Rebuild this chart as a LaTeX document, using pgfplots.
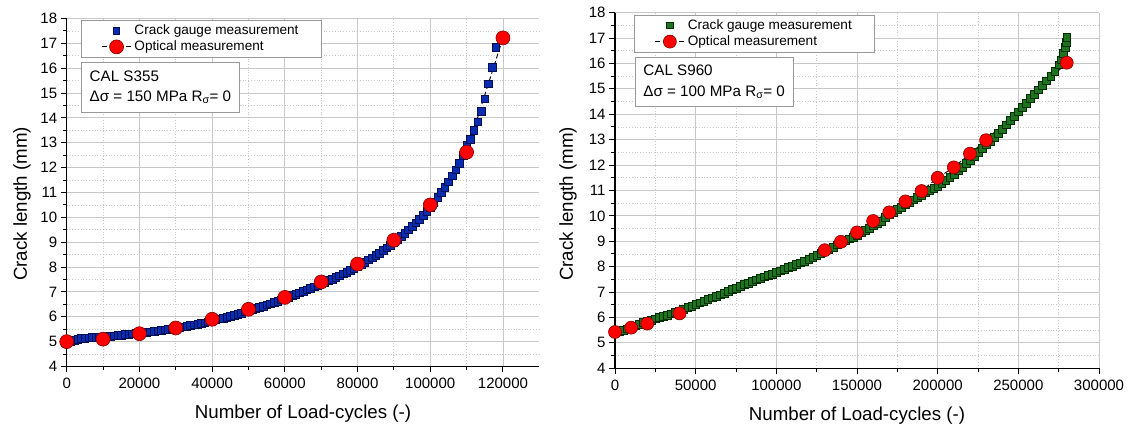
\documentclass[border=0pt]{standalone}
\usepackage{fontspec}
\setmainfont{Liberation Sans}
\usepackage{pgfplots}
\pgfplotsset{compat=1.18}
\usepackage{pgfplotstable}

\definecolor{gaugeblue}{RGB}{10,45,175}
\definecolor{gaugeblueedge}{RGB}{0,15,85}
\definecolor{gaugegreen}{RGB}{30,115,30}
\definecolor{gaugegreenedge}{RGB}{0,45,0}
\definecolor{optred}{RGB}{255,0,0}
\definecolor{optrededge}{RGB}{130,0,0}
\definecolor{gridmaj}{RGB}{200,200,200}
\definecolor{gridmin}{RGB}{200,200,200}

\pgfplotstableread{
x y
0 5.00
1000 5.02
2000 5.05
3000 5.09
4000 5.13
5000 5.15
6000 5.16
7000 5.17
8000 5.18
9000 5.19
10000 5.20
11000 5.21
12000 5.23
13000 5.24
14000 5.26
15000 5.27
16000 5.29
17000 5.30
18000 5.32
19000 5.33
20000 5.35
21000 5.37
22000 5.38
23000 5.40
24000 5.42
25000 5.44
26000 5.46
27000 5.48
28000 5.50
29000 5.52
30000 5.55
31000 5.57
32000 5.60
33000 5.62
34000 5.65
35000 5.68
36000 5.71
37000 5.74
38000 5.77
39000 5.81
40000 5.85
41000 5.88
42000 5.92
43000 5.95
44000 5.99
45000 6.03
46000 6.07
47000 6.11
48000 6.15
49000 6.20
50000 6.25
51000 6.29
52000 6.34
53000 6.38
54000 6.43
55000 6.48
56000 6.53
57000 6.58
58000 6.63
59000 6.69
60000 6.75
61000 6.80
62000 6.86
63000 6.91
64000 6.97
65000 7.03
66000 7.09
67000 7.15
68000 7.21
69000 7.27
70000 7.33
71000 7.39
72000 7.46
73000 7.52
74000 7.59
75000 7.66
76000 7.73
77000 7.80
78000 7.87
79000 7.95
80000 8.03
81000 8.12
82000 8.20
83000 8.29
84000 8.38
85000 8.48
86000 8.57
87000 8.67
88000 8.78
89000 8.89
90000 9.00
91000 9.12
92000 9.24
93000 9.37
94000 9.50
95000 9.64
96000 9.78
97000 9.93
98000 10.09
99000 10.25
100000 10.42
101000 10.60
102000 10.80
103000 11.00
104000 11.22
105000 11.44
106000 11.68
107000 11.92
108000 12.18
109000 12.50
110000 12.90
111000 13.15
112000 13.50
113000 13.85
114000 14.28
115000 14.78
116000 15.38
117000 16.05
118000 16.85
}\gaugeA

\pgfplotstableread{
x y
0 5.00
10000 5.10
20000 5.32
30000 5.55
40000 5.90
50000 6.30
60000 6.78
70000 7.40
80000 8.12
90000 9.08
100000 10.50
110000 12.62
120000 17.22
}\opticA

\pgfplotstableread{
x y
0 5.40
2500 5.45
5000 5.51
7500 5.56
10000 5.62
12500 5.68
15000 5.74
17500 5.80
20000 5.85
22500 5.90
25000 5.95
27500 6.00
30000 6.05
32500 6.10
35000 6.15
37500 6.20
40000 6.25
42500 6.32
45000 6.39
47500 6.45
50000 6.52
52500 6.58
55000 6.65
57500 6.71
60000 6.78
62500 6.84
65000 6.90
67500 6.97
70000 7.03
72500 7.10
75000 7.16
77500 7.23
80000 7.30
82500 7.36
85000 7.42
87500 7.49
90000 7.55
92500 7.61
95000 7.66
97500 7.72
100000 7.78
102500 7.84
105000 7.90
107500 7.97
110000 8.03
112500 8.10
115000 8.16
117500 8.23
120000 8.30
122500 8.38
125000 8.46
127500 8.54
130000 8.62
132500 8.70
135000 8.78
137500 8.87
140000 8.95
142500 9.02
145000 9.10
147500 9.17
150000 9.25
152500 9.34
155000 9.43
157500 9.53
160000 9.62
162500 9.72
165000 9.80
167500 9.95
170000 10.05
172500 10.15
175000 10.25
177500 10.35
180000 10.45
182500 10.54
185000 10.64
187500 10.73
190000 10.82
192500 10.91
195000 11.00
197500 11.09
200000 11.18
202500 11.30
205000 11.41
207500 11.53
210000 11.65
212500 11.79
215000 11.92
217500 12.06
220000 12.20
222500 12.35
225000 12.50
227500 12.65
230000 12.80
232500 12.95
235000 13.11
237500 13.26
240000 13.42
242500 13.59
245000 13.76
247500 13.93
250000 14.10
252500 14.27
255000 14.45
257500 14.62
260000 14.80
262500 14.97
265000 15.15
267500 15.32
270000 15.50
272500 15.70
275000 15.95
276500 16.15
278000 16.40
279000 16.65
279500 16.85
280000 17.05
}\gaugeB

\pgfplotstableread{
x y
0 5.43
10000 5.60
20000 5.76
40000 6.16
130000 8.65
140000 8.98
150000 9.35
160000 9.80
170000 10.14
180000 10.57
190000 10.98
200000 11.50
210000 11.91
220000 12.45
230000 12.98
280000 16.03
}\opticB

\pgfplotsset{
  crackaxis/.style={
    scale only axis,
    anchor=origin,
    axis lines*=left,
    axis line style={line width=1.1bp,black},
    ymin=4, ymax=18,
    ytick={4,5,...,18},
    minor y tick num=1,
    minor x tick num=1,
    tick align=outside,
    major tick length=6bp,
    minor tick length=4bp,
    every tick/.style={black,line width=1bp},
    grid=both,
    major grid style={gridmaj,line width=0.9bp},
    minor grid style={gridmin,line width=0.8bp,dotted},
    scaled x ticks=false,
    scaled y ticks=false,
    /pgf/number format/fixed,
    /pgf/number format/precision=0,
    /pgf/number format/1000 sep={},
    /pgf/number format/assume math mode=true,
    tick label style={font=\fontsize{15bp}{18bp}\selectfont},
    xticklabel style={yshift=-2bp},
    label style={font=\fontsize{18.7bp}{22bp}\selectfont},
    xlabel={Number of Load-cycles (-)},
    ylabel={Crack length (mm)},
    xlabel style={at={(rel axis cs:0.5,0)},anchor=center,yshift=-47bp},
    legend cell align=left,
    legend style={
      anchor=north west,
      draw=gray!80, line width=0.8bp, fill=white,
      inner xsep=20bp, inner ysep=2.5bp,
      font=\fontsize{13.6bp}{16bp}\selectfont,
      row sep=0bp,
      nodes={inner ysep=1.5bp, inner xsep=2.5bp, text height=10bp, text depth=3bp},
    },
  },
  gaugemark/.style={only marks, mark=square*, mark size=3.8bp,
    mark options={line width=0.8bp},
    legend image code/.code={\draw[##1,mark size=3.2bp] plot coordinates {(15bp,0bp)};}},
  opticmark/.style={black, line width=0.9bp, dash pattern=on 5bp off 3bp,
    mark=*, mark size=7bp,
    mark options={solid, fill=optred, draw=optrededge, line width=0.6bp},
    legend image code/.code={\draw[##1,mark repeat=2,mark phase=2] plot coordinates {(0bp,0bp) (15bp,0bp) (30bp,0bp)};}},
}

\begin{document}
\begin{tikzpicture}
\useasboundingbox (0,0) rectangle (1134bp,429bp);

% ---------- left chart ----------
\begin{axis}[crackaxis,
  at={(66.7bp,62.5bp)},
  width=472.6bp, height=348bp,
  xmin=0, xmax=130000,
  xtick={0,20000,...,120000},
  ylabel style={at={(rel axis cs:0,0.467)},anchor=center,yshift=44.7bp},
  legend style={at={(0.0296,0.9957)}},
]
\addplot[gaugemark, mark options={fill=gaugeblue, draw=gaugeblueedge}] table {\gaugeA};
\addlegendentry{Crack gauge measurement}
\addplot[opticmark] table {\opticA};
\addlegendentry{Optical measurement}
\node[draw=gray!80, line width=0.8bp, fill=white, anchor=north west, align=left,
      inner xsep=8bp, inner ysep=8bp,
      font=\fontsize{15.2bp}{20.7bp}\selectfont]
  at (rel axis cs:0.0309,0.875) {CAL S355\\Δσ = 150 MPa R\textsubscript{σ}= 0};
\end{axis}

% ---------- right chart ----------
\begin{axis}[crackaxis,
  at={(615bp,60.7bp)},
  width=484bp, height=355.6bp,
  xmin=0, xmax=300000,
  xtick={0,50000,...,300000},
  ylabel style={at={(rel axis cs:0,0.462)},anchor=center,yshift=47bp},
  legend style={at={(0.0393,0.9944)}},
]
\addplot[gaugemark, mark size=3.9bp, mark options={fill=gaugegreen, draw=gaugegreenedge}] table {\gaugeB};
\addlegendentry{Crack gauge measurement}
\addplot[opticmark, mark size=6.5bp] table {\opticB};
\addlegendentry{Optical measurement}
\node[draw=gray!80, line width=0.8bp, fill=white, anchor=north west, align=left,
      inner xsep=8bp, inner ysep=8bp,
      font=\fontsize{15.2bp}{20.7bp}\selectfont]
  at (rel axis cs:0.0413,0.876) {CAL S960\\Δσ = 100 MPa R\textsubscript{σ}= 0};
\end{axis}
\end{tikzpicture}
\end{document}
